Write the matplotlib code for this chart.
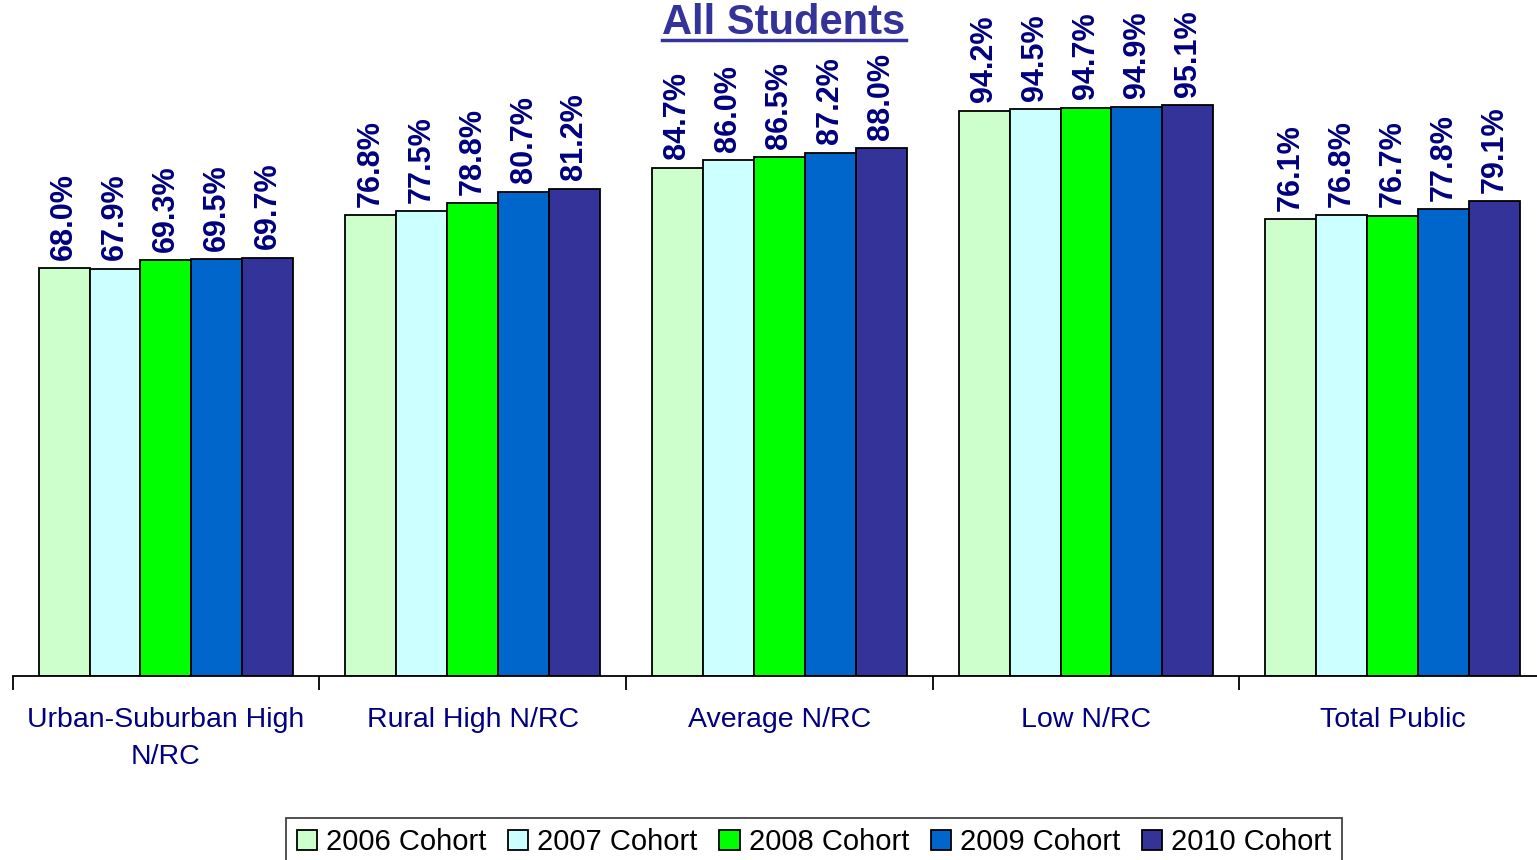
import numpy as np
import matplotlib
matplotlib.use("Agg")
import matplotlib.pyplot as plt
from matplotlib.lines import Line2D

# data
categories = ["Urban-Suburban High\nN/RC", "Rural High N/RC", "Average N/RC", "Low N/RC", "Total Public"]
cohorts = ["2006 Cohort", "2007 Cohort", "2008 Cohort", "2009 Cohort", "2010 Cohort"]
c2006 = [68.0, 76.8, 84.7, 94.2, 76.1]
c2007 = [67.9, 77.5, 86.0, 94.5, 76.8]
c2008 = [69.3, 78.8, 86.5, 94.7, 76.7]
c2009 = [69.5, 80.7, 87.2, 94.9, 77.8]
c2010 = [69.7, 81.2, 88.0, 95.1, 79.1]
series = [c2006, c2007, c2008, c2009, c2010]
colors = ["#CCFFCC", "#CCFFFF", "#00FF00", "#0066CC", "#333399"]

plt.rcParams["font.family"] = ["Liberation Sans", "DejaVu Sans"]

W, H = 1537, 860
fig = plt.figure(figsize=(W / 100, H / 100), dpi=100)
ax = fig.add_axes([12.6 / W, 184 / H, 1533.4 / W, 600 / H])

x = np.arange(len(categories))
bw = 0.166
for i, vals in enumerate(series):
    pos = x + (i - 2) * bw
    ax.bar(pos, vals, bw, color=colors[i], edgecolor="black", linewidth=1.3, label=cohorts[i], zorder=2)
    for px, v in zip(pos, vals):
        ax.annotate("%.1f%%" % v, (px, v), xytext=(0, 6), textcoords="offset points",
                    rotation=90, ha="center", va="bottom", fontsize=22,
                    fontweight="bold", color="#000080")

ax.set_xlim(-0.5, 4.5)
ax.set_ylim(0, 100)
for s in ["left", "right", "top"]:
    ax.spines[s].set_visible(False)
ax.spines["bottom"].set_linewidth(1.3)
ax.set_yticks([])
ax.set_xticks(np.arange(-0.5, 5, 1.0))
ax.set_xticklabels([])
ax.tick_params(axis="x", length=10, width=1.3, direction="out")
for i, c in enumerate(categories):
    ax.text(i, -5.2, c, ha="center", va="top", fontsize=20.5, color="#000080",
            linespacing=1.55, transform=ax.transData)

# title with underline
t = fig.text(784 / W, 1 - 23 / H, "All Students", ha="center", va="center",
             fontsize=30, fontweight="bold", color="#333399")
fig.canvas.draw()
bb = t.get_window_extent().transformed(fig.transFigure.inverted())
fig.add_artist(Line2D([bb.x0, bb.x1], [1 - 40 / H, 1 - 40 / H], color="#333399", linewidth=2.5,
                      transform=fig.transFigure))

leg = fig.legend(loc="center", bbox_to_anchor=(814 / W, 1 - 842 / H), ncol=5, fontsize=21,
                 frameon=True, fancybox=False, edgecolor="black", handlelength=0.7,
                 handleheight=0.7, handletextpad=0.3, columnspacing=0.75, borderpad=0.35)
leg.get_frame().set_linewidth(1.2)

fig.savefig("out.png", dpi=100)
